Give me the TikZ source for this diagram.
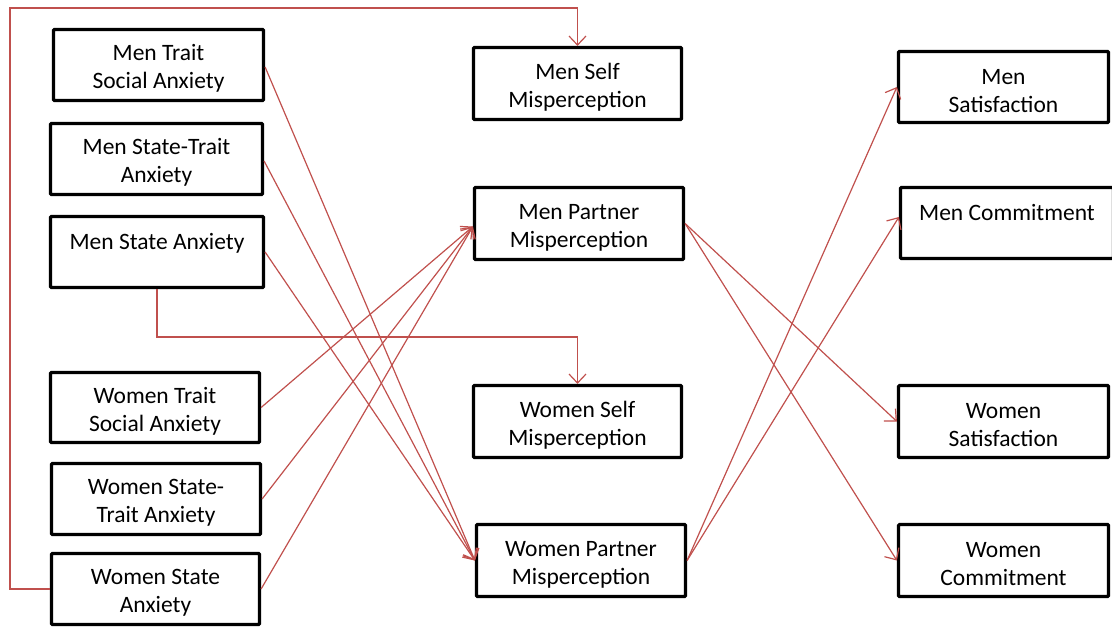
\documentclass[tikz,border=0pt]{standalone}
\usepackage{fontspec}
\setmainfont{Carlito}
\usetikzlibrary{arrows.meta,calc}
\definecolor{conred}{HTML}{C0504D}
\newcommand\tpad{\rule{0pt}{23pt}}
\begin{document}
\begin{tikzpicture}[x=1pt,y=-1pt,
  bx/.style={draw=black, line width=3.2pt, rounded corners=1pt, fill=white, align=center,
    inner sep=0pt, font=\fontsize{23.5}{28}\selectfont},
  arr/.style={draw=conred, line width=1.2pt, -{Straight Barb[length=9pt,width=17pt,line width=1.2pt]}}]
\useasboundingbox (0,0) rectangle (1112,627);
% left column
\node[bx, minimum width=210pt, minimum height=71pt] (mtsa) at (158.5,65) {\tpad Men Trait\\Social Anxiety};
\node[bx, minimum width=212pt, minimum height=71pt] (msta) at (156.5,159) {\tpad Men State-Trait\\Anxiety};
\node[bx, minimum width=213pt, minimum height=71pt] (msa) at (157,252) {\tpad Men State Anxiety\\\mbox{}};
\node[bx, minimum width=209pt, minimum height=70pt] (wtsa) at (155,407.5) {\tpad Women Trait\\Social Anxiety};
\node[bx, minimum width=209pt, minimum height=71pt] (wsta) at (156,499) {\tpad Women State-\\Trait Anxiety};
\node[bx, minimum width=208pt, minimum height=71pt] (wsa) at (155.5,589) {\tpad Women State\\Anxiety};
% middle column
\node[bx, minimum width=208pt, minimum height=72pt] (mself) at (577.5,83.5) {\tpad Men Self\\Misperception};
\node[bx, minimum width=209pt, minimum height=72pt] (mpart) at (579,223.5) {\tpad Men Partner\\Misperception};
\node[bx, minimum width=208pt, minimum height=72pt] (wself) at (577.5,421.5) {\tpad Women Self\\Misperception};
\node[bx, minimum width=209pt, minimum height=72pt] (wpart) at (581,560.5) {\tpad Women Partner\\Misperception};
% right column
\node[bx, minimum width=210pt, minimum height=71pt] (msat) at (1003.5,87) {\tpad Men\\Satisfaction};
\node[bx, minimum width=213pt, minimum height=71pt] (mcom) at (1007,223) {\tpad Men Commitment\\\mbox{}};
\node[bx, minimum width=210pt, minimum height=72pt] (wsat) at (1003.5,421.5) {\tpad Women\\Satisfaction};
\node[bx, minimum width=210pt, minimum height=72pt] (wcom) at (1003.5,560.5) {\tpad Women\\Commitment};
% elbow connectors
\coordinate (leftx) at (10,589);
\coordinate (topy) at (0,8);
\coordinate (midy) at (0,337);
\draw[arr] (wsa.west) -- (leftx) |- (mself.north |- topy) -- (mself.north);
\draw[arr] (msa.south) -- (msa.south |- midy) -| (wself.north);
% men anxiety -> women partner
\draw[arr] ([yshift=-2pt]mtsa.east) -- (wpart.west);
\draw[arr] ([yshift=-2pt]msta.east) -- (wpart.west);
\draw[arr] (msa.east) -- (wpart.west);
% women anxiety -> men partner
\draw[arr] (wtsa.east) -- ([yshift=-3pt]mpart.west);
\draw[arr] (wsta.east) -- ([yshift=-3pt]mpart.west);
\draw[arr] (wsa.east) -- ([yshift=-3pt]mpart.west);
% partner -> outcomes
\draw[arr] (mpart.east) -- (wsat.west);
\draw[arr] (mpart.east) -- (wcom.west);
\draw[arr] (wpart.east) -- (msat.west);
\draw[arr] (wpart.east) -- ([yshift=6pt]mcom.west);
\end{tikzpicture}
\end{document}
